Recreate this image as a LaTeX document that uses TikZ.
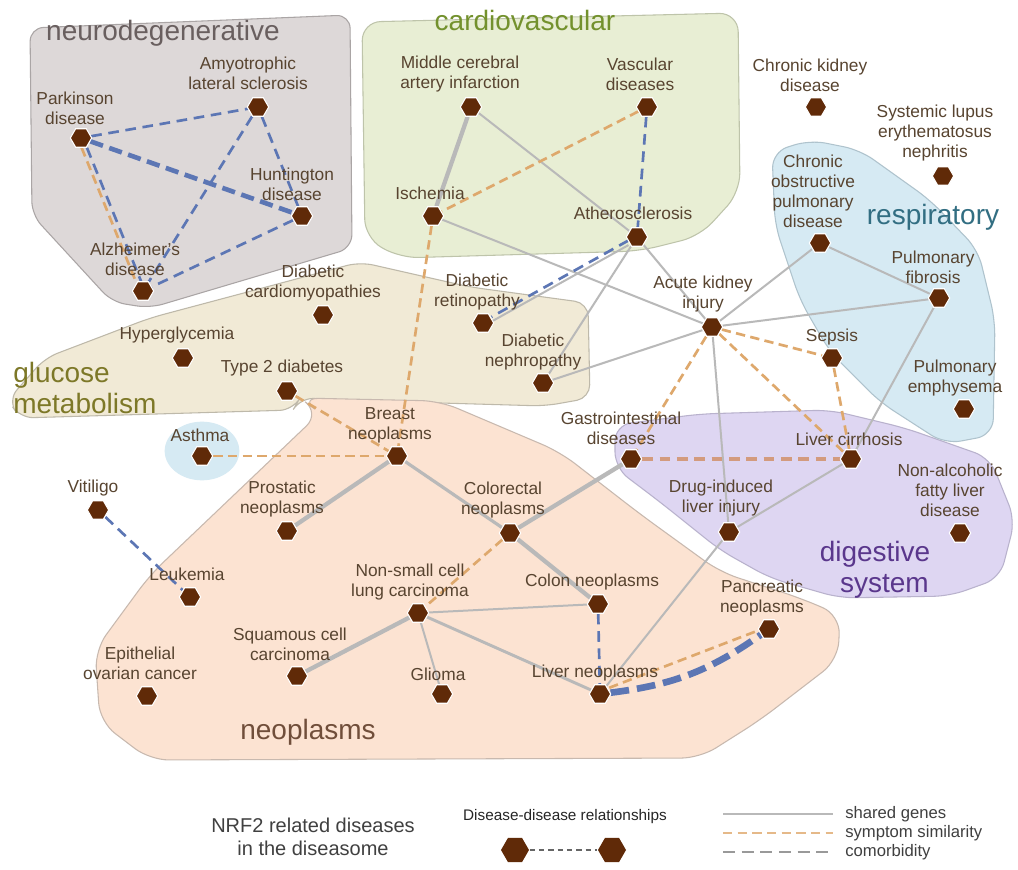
\documentclass[tikz,border=0pt]{standalone}
\usepackage{fontspec}
\setmainfont{Liberation Sans}
\usetikzlibrary{shapes.geometric}
\definecolor{neurofill}{RGB}{221,216,216}
\definecolor{neuroedge}{RGB}{170,165,165}
\definecolor{cardfill}{RGB}{232,238,212}
\definecolor{cardedge}{RGB}{190,196,170}
\definecolor{glucfill}{RGB}{241,234,214}
\definecolor{glucedge}{RGB}{190,185,170}
\definecolor{neofill}{RGB}{252,227,210}
\definecolor{neoedge}{RGB}{200,185,175}
\definecolor{respfill}{RGB}{214,234,243}
\definecolor{respedge}{RGB}{175,195,205}
\definecolor{digfill}{RGB}{222,214,242}
\definecolor{digedge}{RGB}{185,178,205}
\definecolor{nodebrown}{RGB}{96,42,8}
\definecolor{lblcol}{RGB}{88,68,48}
\definecolor{genegray}{RGB}{185,185,185}
\definecolor{symporange}{RGB}{222,168,108}
\definecolor{comblue}{RGB}{92,118,180}
\definecolor{tneuro}{RGB}{105,95,95}
\definecolor{tcard}{RGB}{115,145,45}
\definecolor{tgluc}{RGB}{125,120,40}
\definecolor{tresp}{RGB}{50,110,130}
\definecolor{tdig}{RGB}{90,55,140}
\definecolor{tneo}{RGB}{112,78,58}
\pgfdeclarelayer{bg}
\pgfdeclarelayer{edges}
\pgfsetlayers{bg,edges,main}
\tikzset{
  hexnode/.style={regular polygon, regular polygon sides=6, minimum size=16pt, inner sep=0pt, fill=nodebrown, draw=white, line width=0.8pt},
  lbl/.style={font=\fontsize{13}{15}\selectfont, text=lblcol, align=center, inner sep=0pt},
  ttl/.style={font=\fontsize{21}{23}\selectfont, inner sep=0pt, align=center},
  gene/.style={draw=genegray, line width=1.5pt},
  genethick/.style={draw=genegray, line width=3.2pt},
  symp/.style={draw=symporange, line width=2pt, dash pattern=on 7pt off 4pt},
  comor/.style={draw=comblue, line width=2pt, dash pattern=on 8pt off 5pt},
  blob/.style={rounded corners=10pt, line width=0.8pt}
}
\begin{document}
\begin{tikzpicture}[x=0.75pt,y=-0.75pt]
\useasboundingbox (0,0) rectangle (1018,870);
\begin{pgfonlayer}{bg}
\fill[white] (0,0) rectangle (1018,870);
% neurodegenerative
\filldraw[blob, fill=neurofill, draw=neuroedge] (30,28) -- (350,15) -- (352,248) -- (150,308) -- (112,302) -- (32,215) -- cycle;
% cardiovascular
\filldraw[blob, fill=cardfill, draw=cardedge, rounded corners=14pt] (362,22) -- (738,13) -- (740,192) -- (700,236) -- (640,251) -- (400,258) -- (365,238) -- cycle;
% glucose metabolism
\filldraw[blob, fill=glucfill, draw=glucedge] (8,400) -- (45,358) -- (150,318) -- (360,262) -- (470,287) -- (588,303) -- (590,398) -- (545,406) -- (440,403) -- (300,398) -- (293,410) -- (20,418) -- cycle;
% digestive
\filldraw[blob, fill=digfill, draw=digedge, rounded corners=12pt] (615,425) -- (700,414) -- (830,410) -- (905,428) -- (990,458) -- (1015,520) -- (1000,578) -- (950,596) -- (840,598) -- (770,578) -- (720,550) -- (660,502) -- (615,468) -- cycle;
% respiratory
\filldraw[blob, fill=respfill, draw=respedge, rounded corners=12pt] (772,152) -- (810,140) -- (860,150) -- (930,200) -- (978,250) -- (995,320) -- (993,435) -- (945,444) -- (880,402) -- (830,352) -- (800,300) -- (775,225) -- cycle;
% neoplasms
\filldraw[blob, fill=neofill, draw=neoedge, rounded corners=14pt] (300,398) -- (440,401) -- (560,452) -- (640,514) -- (720,572) -- (800,598) -- (840,615) -- (838,660) -- (760,720) -- (700,758) -- (150,760) -- (100,722) -- (95,650) -- (150,575) -- (320,413) -- cycle;
% asthma
\fill[respfill] (202,451) ellipse [x radius=28pt, y radius=22pt];
\end{pgfonlayer}

% titles
\node[ttl, text=tneuro] (tneuro) at (163,33) {neurodegenerative};
\node[ttl, text=tcard] (tcard) at (525,20) {cardiovascular};
\node[ttl, text=tgluc, anchor=west, align=left] (tgluc) at (13,388) {glucose\\metabolism};
\node[ttl, text=tresp] (tresp) at (933,217) {respiratory};
\node[ttl, text=tdig] (tdig) at (875,570) {digestive\\\hspace*{14pt}system};
\node[ttl, text=tneo] (tneo) at (308,732) {neoplasms};

% disease nodes
\node[hexnode] (park) at (81,138) {};
\node[hexnode] (als) at (258,107) {};
\node[hexnode] (hunt) at (302,216) {};
\node[hexnode] (alz) at (143,291) {};
\node[hexnode] (mca) at (471,107) {};
\node[hexnode] (vasc) at (647,107) {};
\node[hexnode] (isch) at (433,216) {};
\node[hexnode] (ath) at (637,237) {};
\node[hexnode] (dcm) at (323,315) {};
\node[hexnode] (hyper) at (183,358) {};
\node[hexnode] (t2d) at (287,391) {};
\node[hexnode] (ret) at (483,323) {};
\node[hexnode] (neph) at (543,383) {};
\node[hexnode] (aki) at (712,327) {};
\node[hexnode] (ckd) at (816,107) {};
\node[hexnode] (sle) at (943,176) {};
\node[hexnode] (copd) at (820,243) {};
\node[hexnode] (fib) at (939,298) {};
\node[hexnode] (sepsis) at (832,358) {};
\node[hexnode] (emph) at (964,409) {};
\node[hexnode] (gi) at (631,459) {};
\node[hexnode] (cirr) at (851,459) {};
\node[hexnode] (dili) at (729,532) {};
\node[hexnode] (nafld) at (960,533) {};
\node[hexnode] (breast) at (397,456) {};
\node[hexnode] (asthma) at (202,456) {};
\node[hexnode] (vit) at (98,510) {};
\node[hexnode] (prost) at (287,531) {};
\node[hexnode] (colrec) at (510,533) {};
\node[hexnode] (leuk) at (190,597) {};
\node[hexnode] (nsclc) at (418,613) {};
\node[hexnode] (colon) at (598,604) {};
\node[hexnode] (panc) at (769,629) {};
\node[hexnode] (squam) at (297,676) {};
\node[hexnode] (epi) at (147,696) {};
\node[hexnode] (glioma) at (442,694) {};
\node[hexnode] (livneo) at (600,694) {};

% labels
\node[lbl] (lpark) at (75,108) {Parkinson\\disease};
\node[lbl] (lals) at (248,73) {Amyotrophic\\lateral sclerosis};
\node[lbl] (lhunt) at (292,184) {Huntington\\disease};
\node[lbl] (lalz) at (135,259) {Alzheimer's\\disease};
\node[lbl] (lmca) at (460,74) {Middle cerebral\\artery infarction};
\node[lbl] (lvasc) at (640,74) {Vascular\\diseases};
\node[lbl] (lisch) at (430,193) {Ischemia};
\node[lbl] (lath) at (633,213) {Atherosclerosis};
\node[lbl] (ldcm) at (313,283) {Diabetic\\cardiomyopathies};
\node[lbl] (lhyper) at (177,335) {Hyperglycemia};
\node[lbl] (lt2d) at (282,368) {Type 2 diabetes};
\node[lbl] (lret) at (477,292) {Diabetic\\retinopathy};
\node[lbl] (lneph) at (533,352) {Diabetic\\nephropathy};
\node[lbl] (laki) at (703,294) {Acute kidney\\injury};
\node[lbl] (lckd) at (810,75) {Chronic kidney\\disease};
\node[lbl] (lsle) at (935,133) {Systemic lupus\\erythematosus\\nephritis};
\node[lbl] (lcopd) at (813,191) {Chronic\\obstructive\\pulmonary\\disease};
\node[lbl] (lfib) at (933,267) {Pulmonary\\fibrosis};
\node[lbl] (lsepsis) at (832,337) {Sepsis};
\node[lbl] (lemph) at (955,378) {Pulmonary\\emphysema};
\node[lbl] (lgi) at (621,428) {Gastrointestinal\\diseases};
\node[lbl] (lcirr) at (849,439) {Liver cirrhosis};
\node[lbl] (ldili) at (721,498) {Drug-induced\\liver injury};
\node[lbl] (lnafld) at (950,490) {Non-alcoholic\\fatty liver\\disease};
\node[lbl] (lbreast) at (390,425) {Breast\\neoplasms};
\node[lbl] (lasthma) at (200,435) {Asthma};
\node[lbl] (lvit) at (93,488) {Vitiligo};
\node[lbl] (lprost) at (282,499) {Prostatic\\neoplasms};
\node[lbl] (lcolrec) at (503,500) {Colorectal\\neoplasms};
\node[lbl] (lleuk) at (187,574) {Leukemia};
\node[lbl] (lnsclc) at (410,582) {Non-small cell\\lung carcinoma};
\node[lbl] (lcolon) at (592,582) {Colon neoplasms};
\node[lbl] (lpanc) at (762,598) {Pancreatic\\neoplasms};
\node[lbl] (lsquam) at (290,644) {Squamous cell\\carcinoma};
\node[lbl] (lepi) at (140,663) {Epithelial\\ovarian cancer};
\node[lbl] (lglioma) at (438,674) {Glioma};
\node[lbl] (llivneo) at (595,673) {Liver neoplasms};

% edges
\begin{pgfonlayer}{edges}
% neurodegenerative
\draw[comor] (park) -- (als);
\draw[comor, line width=3.5pt, dash pattern=on 10pt off 5pt] (park) -- (hunt);
\draw[symp, transform canvas={xshift=-2.5pt}] (park) -- (alz);
\draw[comor, transform canvas={xshift=1.5pt}] (park) -- (alz);
\draw[comor] (als) -- (hunt);
\draw[comor] (als) -- (alz);
\draw[comor] (hunt) -- (alz);
% cardiovascular
\draw[genethick] (mca) -- (isch);
\draw[gene] (mca) -- (ath);
\draw[symp] (vasc) -- (isch);
\draw[comor] (vasc) -- (ath);
\draw[gene] (isch) -- (aki);
\draw[symp] (isch) -- (breast);
\draw[gene] (ath) -- (aki);
\draw[gene, transform canvas={yshift=-2.5pt}] (ath) -- (ret);
\draw[comor, transform canvas={yshift=1pt}] (ath) -- (ret);
\draw[gene] (ath) -- (neph);
\draw[gene] (neph) -- (aki);
% acute kidney injury hub
\draw[gene] (aki) -- (copd);
\draw[gene] (aki) -- (fib);
\draw[gene] (copd) -- (fib);
\draw[gene] (fib) -- (cirr);
\draw[symp] (aki) -- (sepsis);
\draw[symp] (aki) -- (cirr);
\draw[symp] (aki) -- (gi);
\draw[symp] (sepsis) -- (cirr);
\draw[gene] (aki) -- (dili);
\draw[symp, line width=3pt, dash pattern=on 8pt off 5pt, draw=symporange!80!red!60!genegray] (gi) -- (cirr);
\draw[gene] (cirr) -- (dili);
\draw[gene] (dili) -- (livneo);
% neoplasms
\draw[genethick] (gi) -- (colrec);
\draw[symp] (t2d) -- (breast);
\draw[symp] (asthma) -- (breast);
\draw[genethick] (breast) -- (prost);
\draw[gene, line width=2.4pt] (breast) -- (colrec);
\draw[genethick] (colrec) -- (colon);
\draw[symp] (colrec) -- (nsclc);
\draw[gene] (nsclc) -- (colon);
\draw[genethick] (nsclc) -- (squam);
\draw[gene] (nsclc) -- (glioma);
\draw[gene, line width=2.2pt] (nsclc) -- (livneo);
\draw[comor] (colon) -- (livneo);
\draw[symp, transform canvas={yshift=2pt}] (livneo) -- (panc);
\draw[comor, line width=5pt, dash pattern=on 14pt off 6pt] (livneo) to[bend right=14] (panc);
\draw[comor] (vit) -- (leuk);
\end{pgfonlayer}

% legend
\node[font=\fontsize{15}{17}\selectfont, text=black!75, align=center, inner sep=0pt] (lgnrf) at (313,837) {NRF2 related diseases\\in the diseasome};
\node[font=\fontsize{11.5}{13}\selectfont, text=black!85, inner sep=0pt] (lgdd) at (565,817) {Disease-disease relationships};
\node[hexnode, minimum size=21pt, draw=none] (lgh1) at (515,850) {};
\node[hexnode, minimum size=21pt, draw=none] (lgh2) at (612,850) {};
\draw[draw=black!60, line width=1.6pt, dash pattern=on 4pt off 3pt] (lgh1) -- (lgh2);
\coordinate (lgs1) at (723,814);
\coordinate (lgs2) at (833,814);
\coordinate (lgy1) at (723,833);
\coordinate (lgy2) at (833,833);
\coordinate (lgc1) at (723,852);
\coordinate (lgc2) at (833,852);
\draw[draw=genegray, line width=1pt] (lgs1) -- (lgs2);
\draw[draw=symporange!80, line width=1.6pt, dash pattern=on 7pt off 4pt] (lgy1) -- (lgy2);
\draw[draw=black!40, line width=0.8pt, dash pattern=on 9pt off 5pt] (lgc1) -- (lgc2);
\node[font=\fontsize{12.5}{14}\selectfont, text=black!75, anchor=west, inner sep=0pt] (lgt1) at (845,814) {shared genes};
\node[font=\fontsize{12.5}{14}\selectfont, text=black!75, anchor=west, inner sep=0pt] (lgt2) at (845,833) {symptom similarity};
\node[font=\fontsize{12.5}{14}\selectfont, text=black!75, anchor=west, inner sep=0pt] (lgt3) at (845,852) {comorbidity};
\end{tikzpicture}
\end{document}
